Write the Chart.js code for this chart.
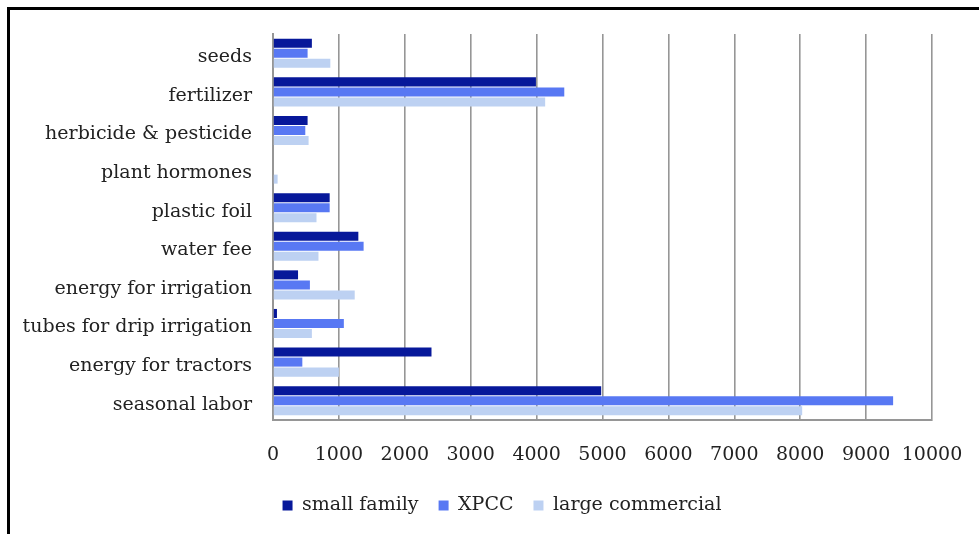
<!DOCTYPE html>
<html>
<head>
<meta charset="utf-8">
<script src="https://cdn.jsdelivr.net/npm/chart.js@4"></script>
<style>
  html, body { margin: 0; padding: 0; background: #fff; }
  #wrap { position: relative; width: 979px; height: 534px; overflow: hidden; }
  #frame { position: absolute; left: 7px; top: 7px; width: 1000px; height: 600px;
           border-left: 3px solid #000; border-top: 3px solid #000; }
  #myChart { position: absolute; left: 0; top: 0; }
</style>
</head>
<body>
<div id="wrap">
  <div id="frame"></div>
  <canvas id="myChart" width="979" height="534"></canvas>
</div>
<script>
const categories = ['seeds', 'fertilizer', 'herbicide & pesticide', 'plant hormones', 'plastic foil',
    'water fee', 'energy for irrigation', 'tubes for drip irrigation', 'energy for tractors', 'seasonal labor'];
const smallFamily = [590, 3990, 525, 0, 860, 1295, 380, 60, 2405, 4980];
const xpcc = [525, 4420, 490, 0, 860, 1375, 560, 1075, 445, 9410];
const largeCommercial = [870, 4130, 540, 70, 660, 690, 1240, 590, 1000, 8030];
const xTicks = [0, 1000, 2000, 3000, 4000, 5000, 6000, 7000, 8000, 9000, 10000];

// legend sits a bit right of the canvas centre in the original
const shiftLegend = {
    id: 'shiftLegend',
    afterLayout: chart => {
        chart.legend.left += 31;
        chart.legend.right += 31;
    }
};

document.addEventListener('DOMContentLoaded', () => {
    const font = { family: 'DejaVu Serif', size: 19 };
    const ctx = document.getElementById('myChart').getContext('2d');
    const myChart = new Chart(ctx, {
        type: 'bar',
        data: {
            labels: categories,
            datasets: [
                { label: 'small family', data: smallFamily, backgroundColor: '#07189a' },
                { label: 'XPCC', data: xpcc, backgroundColor: '#5878f3' },
                { label: 'large commercial', data: largeCommercial, backgroundColor: '#bdd1f2' }
            ]
        },
        plugins: [shiftLegend],
        options: {
            indexAxis: 'y',
            responsive: false,
            animation: false,
            categoryPercentage: 0.78,
            barPercentage: 0.9,
            layout: { padding: { left: 10, right: 47, top: 34, bottom: 9 } },
            plugins: {
                tooltip: { enabled: false },
                legend: {
                    position: 'bottom',
                    labels: { font: font, color: '#222', boxWidth: 10, boxHeight: 10, padding: 20 }
                }
            },
            scales: {
                x: {
                    min: 0,
                    max: 10000,
                    afterBuildTicks: s => { s.ticks = xTicks.map(v => ({ value: v })); },
                    afterFit: s => { s.height = 56; s.paddingLeft = 0; s.paddingRight = 0; },
                    grid: { color: '#969696', lineWidth: 1.6, drawTicks: false },
                    border: { color: '#969696', width: 2 },
                    ticks: { font: font, color: '#222', padding: 24, maxRotation: 0, callback: v => String(v) }
                },
                y: {
                    afterFit: s => { s.width = 273 - 10; },
                    grid: { display: false },
                    border: { color: '#969696', width: 2 },
                    ticks: { font: font, color: '#222', padding: 13, labelOffset: 4 }
                }
            }
        }
    });
});
</script>
</body>
</html>
